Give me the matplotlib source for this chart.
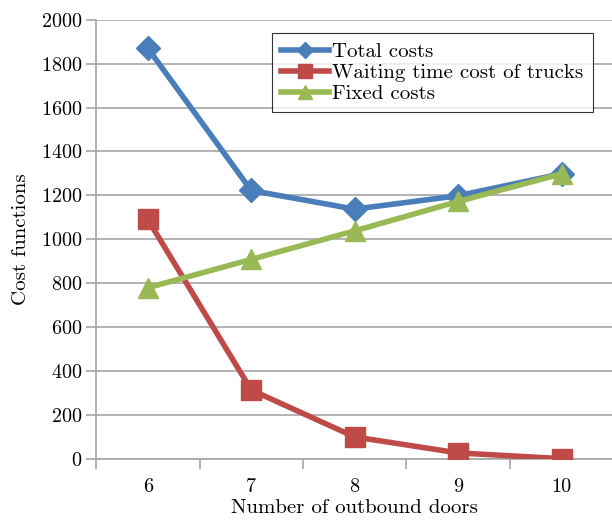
import numpy as np
import matplotlib
matplotlib.use("Agg")
import matplotlib.pyplot as plt
from matplotlib.ticker import FixedLocator

plt.rcParams["font.family"] = ["cmr10", "DejaVu Serif"]
plt.rcParams["axes.formatter.use_mathtext"] = True
plt.rcParams["mathtext.fontset"] = "cm"

doors = ["6", "7", "8", "9", "10"]
total_costs = [1870, 1222, 1137, 1198, 1298]
waiting_costs = [1090, 313, 99, 26, 0]
fixed_costs = [779, 908, 1038, 1172, 1298]

GRID = "#A6A6A6"

fig = plt.figure(figsize=(6.12, 5.2), dpi=100)
ax = fig.add_axes([0.157, 0.118, 0.845, 0.844])

x = np.arange(len(doors))
ax.plot(x, total_costs, color="#4A7EBB", lw=4, marker="D", ms=12,
        label="Total costs", zorder=4)
ax.plot(x, waiting_costs, color="#BE4B48", lw=4, marker="s", ms=15,
        label="Waiting time cost of trucks", zorder=3)
ax.plot(x, fixed_costs, color="#98B954", lw=4, marker="^", ms=15,
        label="Fixed costs", zorder=5)

ax.set_xlim(-0.5, len(doors) - 0.5)
ax.set_ylim(0, 2000)
ax.set_yticks(range(0, 2001, 200))
ax.set_xticks(x)
ax.set_xticklabels(doors)
ax.xaxis.set_minor_locator(FixedLocator(np.arange(-0.5, len(doors), 1.0)))
ax.tick_params(axis="x", which="major", length=0, pad=14, labelsize=14.5)
ax.tick_params(axis="x", which="minor", length=7, width=1.2, color=GRID)
ax.tick_params(axis="y", length=7, width=1.2, color=GRID, labelsize=14.5, pad=3)

ax.grid(axis="y", color=GRID, lw=1.2)
ax.set_axisbelow(True)
for s in ["top", "right"]:
    ax.spines[s].set_visible(False)
for s in ["left", "bottom"]:
    ax.spines[s].set_color(GRID)
    ax.spines[s].set_linewidth(1.2)

ax.set_xlabel("Number of outbound doors", fontsize=15, labelpad=2)
ax.set_ylabel("Cost functions", fontsize=15, labelpad=8)

leg = ax.legend(loc="upper left", bbox_to_anchor=(0.34, 0.97), fontsize=15,
                frameon=True, fancybox=False, handlelength=2.3, handletextpad=0.15,
                labelspacing=0.12, borderpad=0.45, borderaxespad=0,
                markerscale=0.65)
leg.get_frame().set_edgecolor("black")
leg.get_frame().set_linewidth(0.8)

fig.savefig("out.png", dpi=100)
